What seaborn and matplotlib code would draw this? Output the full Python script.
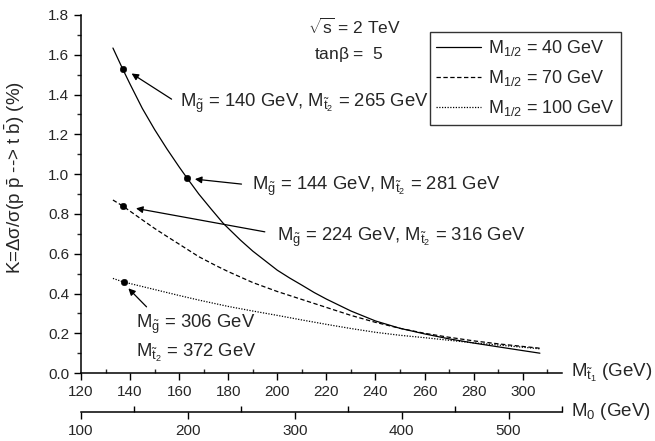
import numpy as np
import pandas as pd
import matplotlib
matplotlib.use('Agg')
import matplotlib.pyplot as plt
import seaborn as sns
from matplotlib.ticker import MultipleLocator

# curves: M_t1 (GeV) vs K (%)
mt1_40 = [133, 137, 140, 145, 150, 155, 160, 163, 168, 173, 178, 185, 190, 195, 200, 205, 210, 215, 220,
          230, 240, 250, 260, 270, 280, 290, 300, 307]
k_40 = [1.634, 1.528, 1.452, 1.33, 1.224, 1.127, 1.036, 0.984, 0.90, 0.825, 0.752, 0.668, 0.613, 0.565, 0.517,
        0.478, 0.442, 0.405, 0.372, 0.312, 0.262, 0.225, 0.197, 0.172, 0.151, 0.132, 0.113, 0.10]
mt1_70 = [133, 137, 145, 150, 155, 160, 168, 175, 180, 190, 200, 210, 220, 230, 240, 250, 260, 270, 280,
          290, 300, 307]
k_70 = [0.87, 0.84, 0.77, 0.727, 0.687, 0.648, 0.585, 0.54, 0.51, 0.455, 0.41, 0.37, 0.33, 0.29, 0.255,
        0.225, 0.20, 0.18, 0.162, 0.147, 0.134, 0.125]
mt1_100 = [133, 137, 150, 160, 168, 180, 190, 200, 210, 220, 230, 240, 250, 260, 270, 280, 290, 300, 307]
k_100 = [0.476, 0.459, 0.42, 0.39, 0.367, 0.335, 0.312, 0.29, 0.267, 0.245, 0.224, 0.205, 0.19, 0.178,
         0.165, 0.152, 0.141, 0.13, 0.122]

# marked points
dot_x = [137.2, 163.3, 137.2, 137.5]
dot_y = [1.528, 0.979, 0.84, 0.459]

sns.set_style('ticks')
plt.rcParams['font.family'] = ['Liberation Sans', 'DejaVu Sans']
plt.rcParams['mathtext.fontset'] = 'custom'
plt.rcParams['mathtext.rm'] = 'Liberation Sans'
plt.rcParams['mathtext.it'] = 'Liberation Sans'
plt.rcParams['mathtext.bf'] = 'Liberation Sans:bold'

fig = plt.figure(figsize=(6.55, 4.41), dpi=100)
ax = fig.add_axes([0.1237, 0.154, 0.7343, 0.812])

df40 = pd.DataFrame({'mt1': mt1_40, 'k': k_40})
df70 = pd.DataFrame({'mt1': mt1_70, 'k': k_70})
df100 = pd.DataFrame({'mt1': mt1_100, 'k': k_100})

sns.lineplot(data=df40, x='mt1', y='k', ax=ax, color='black', lw=0.9,
             label=r'M$_{1/2}$ = 40 GeV')
sns.lineplot(data=df70, x='mt1', y='k', ax=ax, color='black', lw=0.9,
             linestyle=(0, (3.5, 2)), label=r'M$_{1/2}$ = 70 GeV')
sns.lineplot(data=df100, x='mt1', y='k', ax=ax, color='black', lw=0.9,
             linestyle=(0, (1, 1.2)), label=r'M$_{1/2}$ = 100 GeV')
sns.scatterplot(x=dot_x, y=dot_y, ax=ax, color='black', s=22, edgecolor='black', zorder=5)

ax.set_xlim(120, 316)
ax.set_ylim(0, 1.8)
ax.spines['top'].set_visible(False)
ax.spines['right'].set_visible(False)
ax.set_xlabel('')
ax.set_ylabel(r'K=$\Delta\sigma/\sigma$(p $\bar{\rm p}$ --> t $\bar{\rm b}$) (%)', fontsize=13.5)
ax.yaxis.set_label_coords(-0.112, 0.545)
ax.yaxis.set_major_locator(MultipleLocator(0.2))
ax.yaxis.set_minor_locator(MultipleLocator(0.1))
ax.xaxis.set_major_locator(MultipleLocator(20))
ax.xaxis.set_minor_locator(MultipleLocator(10))
ax.yaxis.set_major_formatter(matplotlib.ticker.FormatStrFormatter('%.1f'))
ax.tick_params(axis='both', which='major', direction='out', length=5, width=1, labelsize=11, color='black')
ax.tick_params(axis='y', which='minor', direction='out', length=3, width=1)
ax.tick_params(axis='x', which='minor', direction='in', length=3, width=1)
for s in ['left', 'bottom']:
    ax.spines[s].set_linewidth(1.1)
    ax.spines[s].set_color('black')

# second x axis for M_0
ax2 = ax.twiny()
ax2.set_xlim(100, 550)
ax2.xaxis.set_ticks_position('bottom')
ax2.xaxis.set_label_position('bottom')
ax2.spines['bottom'].set_position(('outward', 28))
for s in ['top', 'right', 'left']:
    ax2.spines[s].set_visible(False)
ax2.spines['bottom'].set_linewidth(1.1)
ax2.spines['bottom'].set_color('black')
ax2.xaxis.set_major_locator(MultipleLocator(100))
ax2.xaxis.set_minor_locator(MultipleLocator(50))
ax2.tick_params(axis='x', which='major', direction='out', length=5, width=1, labelsize=11, color='black')
ax2.tick_params(axis='x', which='minor', direction='in', length=4, width=1, color='black')

# axis titles at the right end
fig.text(0.872, 1 - 373 / 441, r'M$_{\tilde{\rm t}_1}$ (GeV)', fontsize=13.5, va='center', ha='left')
fig.text(0.872, 1 - 412 / 441, r'M$_0$ (GeV)', fontsize=13.5, va='center', ha='left')

# annotations
ax.text(212.4, 1.74, r'$\sqrt{\rm s}$ = 2 TeV', fontsize=12.5, va='center')
ax.text(214.8, 1.60, r'tan$\beta$ =  5', fontsize=12.5, va='center')

arrows = [((156.9, 1.377), (140.6, 1.506)),
          ((185.4, 0.95), (166.4, 0.975)),
          ((194.9, 0.71), (142.4, 0.828)),
          ((146.7, 0.333), (139.3, 0.426))]
for tail, head in arrows:
    ax.annotate('', xy=head, xytext=tail,
                arrowprops=dict(arrowstyle='-|>', color='black', lw=0.9,
                                mutation_scale=10, shrinkA=0, shrinkB=0))

fs = 13.3
ax.text(160.3, 1.355, r'M$_{\tilde{\rm g}}$ = 140 GeV, M$_{\tilde{\rm t}_2}$ = 265 GeV', fontsize=fs, va='center')
ax.text(189.5, 0.937, r'M$_{\tilde{\rm g}}$ = 144 GeV, M$_{\tilde{\rm t}_2}$ = 281 GeV', fontsize=fs, va='center')
ax.text(199.7, 0.68, r'M$_{\tilde{\rm g}}$ = 224 GeV, M$_{\tilde{\rm t}_2}$ = 316 GeV', fontsize=fs, va='center')
ax.text(142.4, 0.245, r'M$_{\tilde{\rm g}}$ = 306 GeV', fontsize=fs, va='center')
ax.text(142.4, 0.10, r'M$_{\tilde{\rm t}_2}$ = 372 GeV', fontsize=fs, va='center')

leg = ax.legend(loc='upper left', bbox_to_anchor=(430 / 655, 1 - 32 / 441),
                bbox_transform=fig.transFigure, fontsize=13, frameon=True,
                fancybox=False, handlelength=2.5, handletextpad=0.35,
                borderpad=0.35, labelspacing=0.55, borderaxespad=0)
leg.get_frame().set_edgecolor('black')
leg.get_frame().set_linewidth(1.0)

fig.savefig('out.png', dpi=100)
